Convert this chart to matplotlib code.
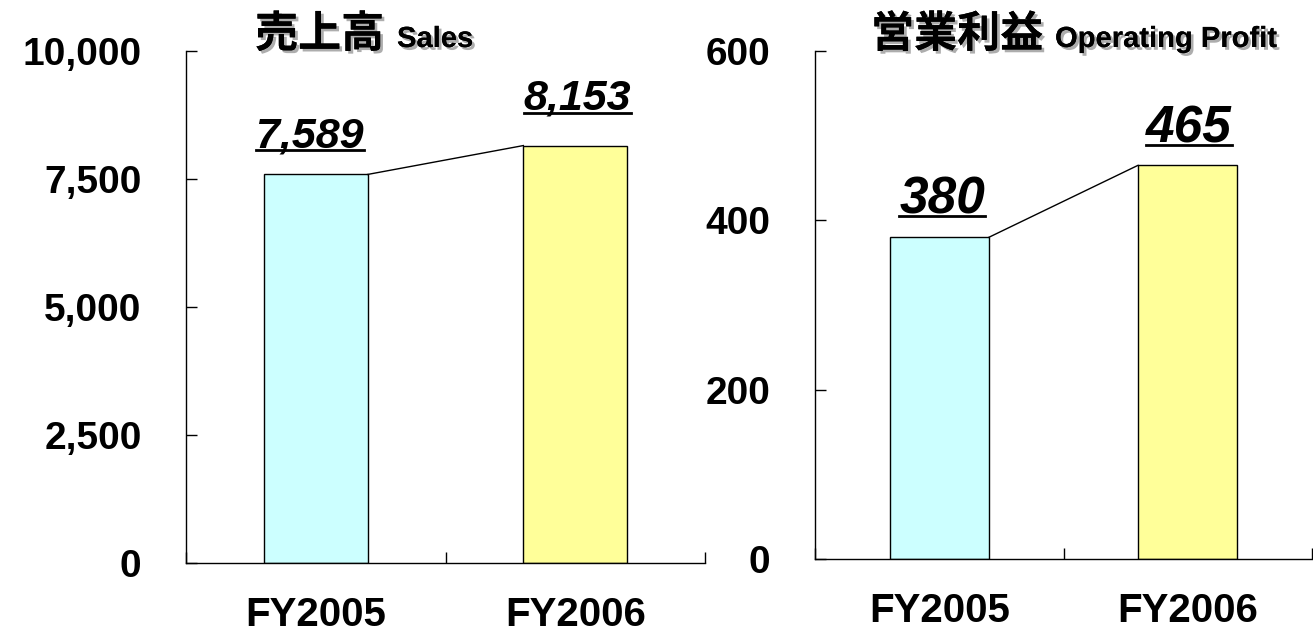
import matplotlib
matplotlib.use('Agg')
import matplotlib.pyplot as plt
import matplotlib.patheffects as pe
from matplotlib.transforms import ScaledTranslation
from matplotlib.lines import Line2D

# ---- data ----
categories = ['FY2005', 'FY2006']
sales = [7589, 8153]
profit = [380, 465]
sales_ticks = [0, 2500, 5000, 7500, 10000]
profit_ticks = [0, 200, 400, 600]
sales_value_labels = ['7,589', '8,153']
profit_value_labels = ['380', '465']
bar_colors = ['#CCFFFF', '#FFFF99']

W, H = 1313, 632
fig = plt.figure(figsize=(W / 100, H / 100), dpi=100)

NUM_FONT = ['Liberation Sans', 'DejaVu Sans']
JP_FONT = ['Noto Sans CJK JP', 'DejaVu Sans']


def px_rect(x0, y_top, x1, y_bot):
    return [x0 / W, 1 - y_bot / H, (x1 - x0) / W, (y_bot - y_top) / H]


value_texts = []


def setup(ax, values, ticks, top, vlabels, vsize, offsets_px):
    x = list(range(len(categories)))
    ax.bar(x, values, width=0.4, color=bar_colors, edgecolor='black',
           linewidth=1, zorder=2)
    ax.plot([x[0] + 0.2, x[1] - 0.2], values, color='black', lw=1, zorder=3)
    ax.set_xlim(-0.5, len(categories) - 0.5)
    ax.set_ylim(0, top)
    for s in ['top', 'right']:
        ax.spines[s].set_visible(False)
    for s in ['left', 'bottom']:
        ax.spines[s].set_linewidth(1)
        ax.spines[s].set_color('black')
    ax.set_yticks(ticks)
    ax.set_yticklabels([f'{t:,}' for t in ticks], fontsize=28,
                       fontweight='bold', family=NUM_FONT)
    ax.tick_params(axis='y', direction='in', length=8, width=1, pad=32)
    ax.set_xticks(x)
    ax.set_xticklabels(categories, fontsize=29, fontweight='bold',
                       family=NUM_FONT)
    ax.tick_params(axis='x', which='major', length=0, pad=24)
    ax.set_xticks([-0.5 + i for i in range(len(categories) + 1)], minor=True)
    ax.tick_params(axis='x', which='minor', direction='in', length=8, width=1)
    ax.patch.set_visible(False)
    for i, (v, lab) in enumerate(zip(values, vlabels)):
        dx, dy = offsets_px[i]
        tr = ax.transData + ScaledTranslation(dx / 100, dy / 100,
                                              fig.dpi_scale_trans)
        t = ax.text(i, v, lab, transform=tr, ha='center', va='baseline',
                    fontsize=vsize, fontweight='bold', fontstyle='italic',
                    family=NUM_FONT, zorder=4)
        value_texts.append(t)


ax1 = fig.add_axes(px_rect(186, 51, 705, 563))
setup(ax1, sales, sales_ticks, 10000, sales_value_labels, 31,
      [(-6, 27), (2, 36)])

ax2 = fig.add_axes(px_rect(815, 51, 1312, 559))
setup(ax2, profit, profit_ticks, 600, profit_value_labels, 37,
      [(3, 24), (1, 23)])

shadow = [pe.withSimplePatchShadow(offset=(2, -2), shadow_rgbFace='#999999',
                                   alpha=0.8), pe.Normal()]
title_y = 1 - 47 / H
fig.text(255 / W, title_y, '売上高', fontsize=31, fontweight='bold',
         family=JP_FONT, va='baseline', ha='left', path_effects=shadow)
fig.text(397 / W, title_y, 'Sales', fontsize=21, fontweight='bold',
         family=NUM_FONT, va='baseline', ha='left', path_effects=shadow)
fig.text(871 / W, title_y, '営業利益', fontsize=31, fontweight='bold',
         family=JP_FONT, va='baseline', ha='left', path_effects=shadow)
fig.text(1055 / W, title_y, 'Operating Profit', fontsize=21,
         fontweight='bold', family=NUM_FONT, va='baseline', ha='left',
         path_effects=shadow)

# underline the value labels
fig.canvas.draw()
renderer = fig.canvas.get_renderer()
inv = fig.transFigure.inverted()
for t in value_texts:
    bb = t.get_window_extent(renderer)
    base = t.get_transform().transform(t.get_position())[1]
    (fx0, fy), (fx1, _) = inv.transform([(bb.x0, base - 3), (bb.x1, base - 3)])
    fig.add_artist(Line2D([fx0, fx1], [fy, fy], color='black', lw=2,
                          transform=fig.transFigure))

fig.savefig('out.png', dpi=100)
